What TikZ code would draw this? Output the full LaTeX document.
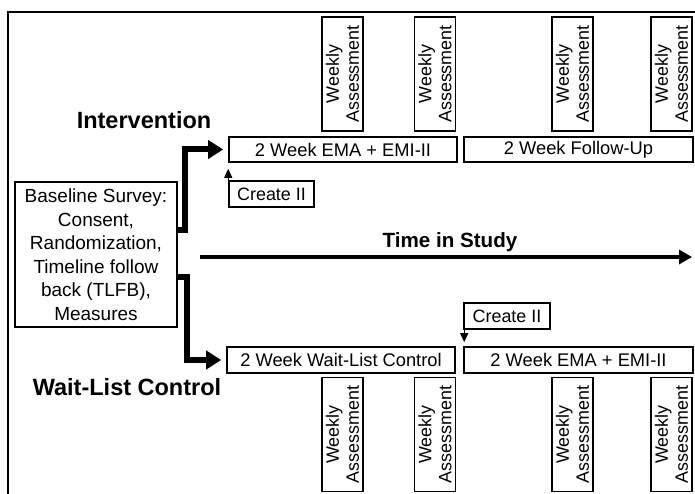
\documentclass[tikz,border=0pt]{standalone}
\usepackage{fontspec}
\setmainfont{Liberation Sans}
\usetikzlibrary{arrows.meta}
\def\wkly{Weekly\\Assessment}

\begin{document}
\begin{tikzpicture}[x=1pt, y=-1pt,
		box/.style={draw, line width=1.6pt, inner sep=0pt, font=\fontsize{18.3}{21}\selectfont},
		wkbox/.style={draw, line width=1.6pt, rotate=90, minimum width=114pt, minimum height=41pt, inner sep=0pt, align=center, font=\fontsize{17.9}{20}\selectfont},
		lbl/.style={font=\bfseries\fontsize{23.5}{26}\selectfont},
		elbow/.style={line width=6pt, shorten >=5pt, -{Triangle[length=15pt,width=18pt]}},
		small/.style={line width=1.2pt, -{Triangle[length=9pt,width=8pt]}}]
			%%%%% START %%%%%
			\useasboundingbox (0,0) rectangle (695,494);
			
			% frame
			\draw[line width=2pt] (695,12) -- (8,12) -- (8,494);
			
			% weekly assessments
			\foreach \x/\n in {342.5/1, 435/2, 572.5/3, 671.5/4} {
				\node[wkbox] (wkT\n) at (\x,74) {\wkly};
				\node[wkbox] (wkB\n) at (\x,434.5) {\wkly};
			}
			
			% baseline
			\node[box, align=center, minimum width=162pt, minimum height=145pt, font=\fontsize{19}{23.5}\selectfont] (base) at (96,254.5)
				{Baseline Survey:\\Consent,\\Randomization,\\Timeline follow\\back (TLFB),\\Measures};
			
			% intervention arm
			\node[lbl] (intLbl) at (144,120) {Intervention};
			\node[box, minimum width=228pt, minimum height=25pt] (intEma) at (343,149.5) {2 Week EMA + EMI-II};
			\node[box, minimum width=229pt, minimum height=25pt] (intFup) at (578.5,149.5) {2 Week Follow-Up};
			\node[box, font=\fontsize{17.9}{20}\selectfont, minimum width=85pt, minimum height=26pt] (crTop) at (271.5,194) {Create II};
			
			% wait-list arm
			\node[lbl] (wlLbl) at (127,387) {Wait-List Control};
			\node[box, minimum width=228pt, minimum height=26pt] (wlCtl) at (341,360) {2 Week Wait-List Control};
			\node[box, minimum width=229pt, minimum height=26pt] (wlEma) at (578.5,360) {2 Week EMA + EMI-II};
			\node[box, font=\fontsize{17.9}{20}\selectfont, minimum width=86pt, minimum height=26pt] (crBot) at (507,316) {Create II};
			
			% time axis
			\coordinate (tS) at (200,257);
			\coordinate (tE) at (692,257);
			\draw[line width=4pt, -{Triangle[length=13pt,width=14pt]}] (tS) -- (tE);
			\node[font=\bfseries\fontsize{20.6}{24}\selectfont] (tLbl) at (450,242.5) {Time in Study};
			
			% arms
			\draw[elbow] ([yshift=25pt]base.east) -- ++(7,0) |- (intEma.west);
			\draw[elbow] ([yshift=-22.5pt]base.east) -- ++(9,0) |- (wlCtl.west);
			
			\draw[small, shorten >=6pt] (crTop.north west) -- (intEma.south west);
			\draw[small, shorten >=4pt] ([xshift=1pt]crBot.south west) -- ([xshift=1pt]wlEma.north west);
			
			%%%%% END %%%%%
		\end{tikzpicture}
\end{document}
